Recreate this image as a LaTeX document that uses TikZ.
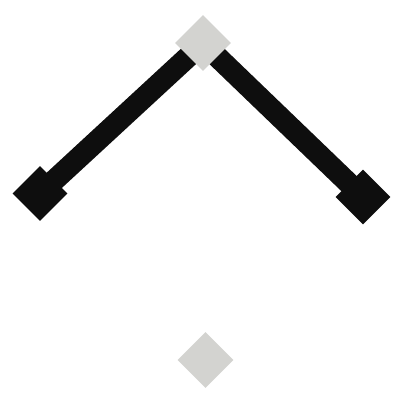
\documentclass[tikz,border=0pt]{standalone}
\usetikzlibrary{shapes.geometric,backgrounds}
\definecolor{ggray}{RGB}{211,211,208}
\definecolor{nblack}{RGB}{14,14,14}
\begin{document}
\begin{tikzpicture}[x=1pt,y=-1pt,
  graydia/.style={diamond,fill=ggray,draw=none,inner sep=0pt,minimum width=56pt,minimum height=56pt,aspect=1},
  blackdia/.style={diamond,fill=nblack,draw=none,inner sep=0pt,minimum width=55pt,minimum height=55pt,aspect=1},
  bar/.style={draw=nblack,line width=21.5pt}]
\useasboundingbox (0,0) rectangle (400,400);
\node[graydia] (t) at (203,43) {};
\node[blackdia] (l) at (40,193.5) {};
\node[blackdia] (r) at (363,197) {};
\node[graydia] (b) at (205.5,360) {};
\begin{pgfonlayer}{background}
\draw[bar] (t.center) -- (l.center);
\draw[bar] (t.center) -- (r.center);
\end{pgfonlayer}
\end{tikzpicture}
\end{document}
